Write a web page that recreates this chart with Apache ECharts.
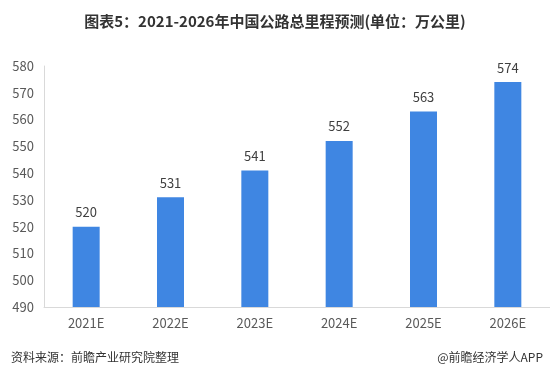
<!DOCTYPE html>
<html>
<head>
<meta charset="utf-8">
<script src="https://cdn.jsdelivr.net/npm/echarts@6/dist/echarts.min.js"></script>
<style>
  html, body { margin: 0; padding: 0; background: #fff; }
  #chart { width: 550px; height: 378px; }
</style>
</head>
<body>
<div id="chart"></div>
<script>
  const years = ['2021E', '2022E', '2023E', '2024E', '2025E', '2026E']
  const mileage = [520, 531, 541, 552, 563, 574]

  const chart = echarts.init(document.getElementById('chart'))
  const font = '"Noto Sans CJK SC", "Microsoft YaHei", sans-serif'

  chart.setOption({
    backgroundColor: '#fff',
    title: [
      {
        text: '图表5：2021-2026年中国公路总里程预测(单位：万公里)',
        left: 'center',
        top: 9,
        textStyle: { fontSize: 15, fontWeight: 'bold', color: '#333', fontFamily: font }
      },
      {
        text: '资料来源：前瞻产业研究院整理',
        left: 6,
        top: 346,
        textStyle: { fontSize: 12, fontWeight: 'normal', color: '#333', fontFamily: font }
      },
      {
        text: '@前瞻经济学人APP',
        right: 2,
        top: 346,
        textStyle: { fontSize: 12, fontWeight: 'normal', color: '#333', fontFamily: font }
      }
    ],
    grid: { left: 44, top: 66, width: 510, height: 241, containLabel: false },
    xAxis: {
      type: 'category',
      data: years,
      axisLine: { lineStyle: { color: '#d9d9d9' } },
      axisTick: { show: false },
      axisLabel: { color: '#595959', fontSize: 13, margin: 10, fontFamily: font }
    },
    yAxis: {
      type: 'value',
      min: 490,
      max: 580,
      interval: 10,
      axisLine: { show: true, lineStyle: { color: '#d9d9d9' } },
      axisTick: { show: false },
      splitLine: { show: false },
      axisLabel: { color: '#595959', fontSize: 13, margin: 10, fontFamily: font }
    },
    series: [
      {
        type: 'bar',
        data: mileage,
        barWidth: 27,
        itemStyle: { color: '#3f86e2' },
        label: {
          show: true,
          position: 'top',
          distance: 8,
          color: '#404040',
          fontSize: 13,
          fontFamily: font
        }
      }
    ]
  })
</script>
</body>
</html>
